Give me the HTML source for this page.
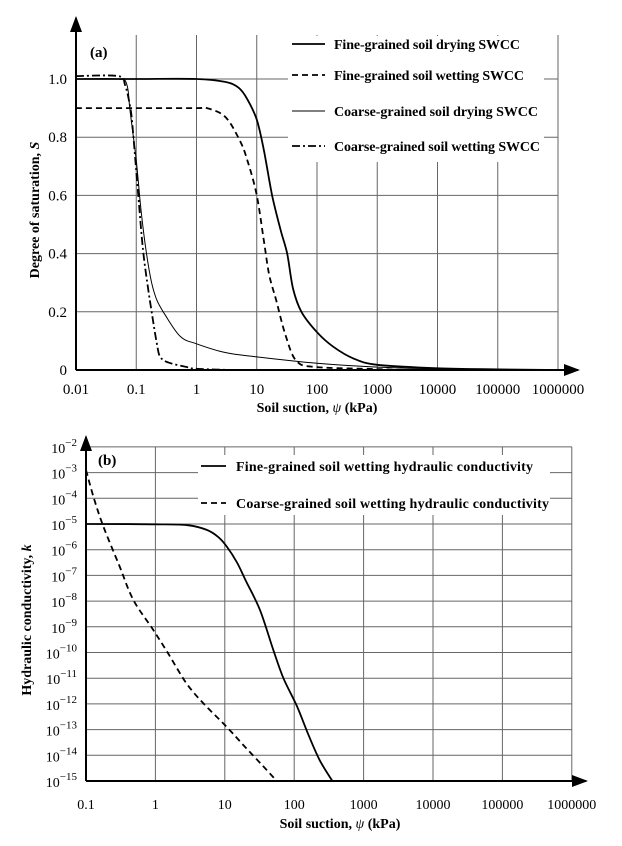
<!DOCTYPE html>
<html><head><meta charset="utf-8"><style>
body{margin:0;background:#fff}
svg{display:block;font-family:"Liberation Serif",serif}
</style></head><body>
<svg id="fig" width="622" height="846">
<defs><marker id="arr" markerWidth="8" markerHeight="6" refX="7" refY="3" orient="auto"><path d="M0,0L8,3L0,6z" fill="#000"/></marker></defs>
<g id="a"></g>
<g id="b"></g>
</svg>
<script>
// Chart (a) data
const aXTicks=["0.01","0.1","1","10","100","1000","10000","100000","1000000"];
const aYTicks=["0","0.2","0.4","0.6","0.8","1.0"];
const fineDryX=[0.01,0.1,1,3,5,7,10,13,18,25,32,40,55,100,186,400,1000,10000,100000,1000000];
const fineDryY=[1.0,1.0,1.0,0.99,0.97,0.93,0.86,0.76,0.6,0.48,0.4,0.28,0.2,0.13,0.08,0.04,0.018,0.006,0.002,0];
const fineWetX=[0.01,0.1,1,1.5,3,5.2,7,10,13,16,21,30,46,100,1000,3000];
const fineWetY=[0.9,0.9,0.9,0.9,0.87,0.79,0.72,0.6,0.45,0.33,0.24,0.12,0.03,0.01,0.003,0];
const coarseDryX=[0.01,0.05,0.07,0.079,0.1,0.12,0.148,0.18,0.22,0.3,0.54,1,3,10,100,1000,10000,1000000];
const coarseDryY=[1.0,1.0,0.98,0.89,0.72,0.55,0.4,0.3,0.24,0.19,0.115,0.09,0.06,0.045,0.023,0.01,0.004,0];
const coarseWetX=[0.01,0.05,0.065,0.08,0.089,0.108,0.13,0.16,0.19,0.22,0.25,0.35,0.7,1,4];
const coarseWetY=[1.01,1.01,0.98,0.9,0.81,0.6,0.41,0.27,0.17,0.09,0.045,0.025,0.01,0.004,0];
// Chart (b) data
const bXTicks=["0.1","1","10","100","1000","10000","100000","1000000"];
const bYExp=[-15,-14,-13,-12,-11,-10,-9,-8,-7,-6,-5,-4,-3,-2];
const fineKX=[0.1,1,3,5.5,8,10.7,15,20,32,50,70,110,160,234,355];
const fineKY=[-5,-5.01,-5.05,-5.23,-5.5,-5.88,-6.5,-7.2,-8.34,-9.9,-11,-12.1,-13.2,-14.2,-15];
const coarseKX=[0.1,0.13,0.178,0.3,0.48,0.92,1.5,2.8,5,10.7,20,35,56];
const coarseKY=[-2.9,-4,-5.1,-6.6,-7.95,-9.1,-10,-11.2,-12,-12.9,-13.7,-14.4,-15];

const NS="http://www.w3.org/2000/svg";
function mk(p,t,at,txt){const e=document.createElementNS(NS,t);for(const k in at)e.setAttribute(k,at[k]);if(txt!==undefined)e.textContent=txt;p.appendChild(e);return e;}
function smooth(pts){let d='M'+pts[0][0].toFixed(1)+','+pts[0][1].toFixed(1);
for(let i=0;i<pts.length-1;i++){const p0=pts[Math.max(0,i-1)],p1=pts[i],p2=pts[i+1],p3=pts[Math.min(pts.length-1,i+2)];
const c1=[p1[0]+(p2[0]-p0[0])/6,p1[1]+(p2[1]-p0[1])/6],c2=[p2[0]-(p3[0]-p1[0])/6,p2[1]-(p3[1]-p1[1])/6];
d+='C'+c1.map(v=>v.toFixed(1)).join(',')+' '+c2.map(v=>v.toFixed(1)).join(',')+' '+p2.map(v=>v.toFixed(1)).join(',');}
return d;}
function path(P,xs,ys,fx,fy,at,name){const pts=xs.map((v,i)=>[fx(v),fy(ys[i])]);
const e=mk(P,'path',Object.assign({d:smooth(pts),fill:'none',stroke:'#000','stroke-linejoin':'round'},at));

}

// ---- chart a
const A=document.getElementById('a');
const ax=v=>76+60.25*(Math.log10(v)+2);
const ay=v=>370-291*v;
for(let i=1;i<aXTicks.length;i++){const x=ax(+aXTicks[i]);const l=mk(A,'line',{x1:x,y1:35,x2:x,y2:370,stroke:'#666','stroke-width':1});

}
for(let i=1;i<aYTicks.length;i++){const y=ay(+aYTicks[i]);const l=mk(A,'line',{x1:76,y1:y,x2:558,y2:y,stroke:'#666','stroke-width':1});

}
aXTicks.forEach(t=>{const e=mk(A,'text',{x:ax(+t),y:394,'font-size':15,'text-anchor':'middle'},t);

});
aYTicks.forEach(t=>{const e=mk(A,'text',{x:67,y:ay(+t)+5,'font-size':15,'text-anchor':'end'},t);

});
mk(A,'rect',{x:288,y:36,width:256,height:126,fill:'#fff'});
path(A,fineDryX,fineDryY,ax,ay,{'stroke-width':1.8},'fine-drying-swcc');
path(A,fineWetX,fineWetY,ax,ay,{'stroke-width':1.8,'stroke-dasharray':'6,4'},'fine-wetting-swcc');
path(A,coarseDryX,coarseDryY,ax,ay,{'stroke-width':1},'coarse-drying-swcc');
path(A,coarseWetX,coarseWetY,ax,ay,{'stroke-width':1.8,'stroke-dasharray':'8,3,2,3'},'coarse-wetting-swcc');
const aLeg=[["Fine-grained soil drying SWCC",{'stroke-width':1.8}],["Fine-grained soil wetting SWCC",{'stroke-width':1.8,'stroke-dasharray':'6,4'}],["Coarse-grained soil drying SWCC",{'stroke-width':1}],["Coarse-grained soil wetting SWCC",{'stroke-width':1.8,'stroke-dasharray':'8,3,2,3'}]];
const aLegY=[44,75,111,146];
aLeg.forEach((l,i)=>{const g=mk(A,'g',{});


mk(g,'line',Object.assign({x1:292,y1:aLegY[i],x2:325,y2:aLegY[i],stroke:'#000'},l[1]));
mk(g,'text',{x:334,y:aLegY[i]+5,'font-size':14,'font-weight':'bold','textLength':i==0?186:i==1?190:i==2?204:206},l[0]);});
mk(A,'line',{x1:76,y1:370,x2:76,y2:18,stroke:'#000','stroke-width':2,'marker-end':'url(#arr)'});
mk(A,'line',{x1:76,y1:370,x2:578,y2:370,stroke:'#000','stroke-width':2,'marker-end':'url(#arr)'});
mk(A,'text',{x:90,y:57,'font-size':15,'font-weight':'bold'},'(a)');
const ayt=mk(A,'text',{x:0,y:0,'font-size':14,'font-weight':'bold','text-anchor':'middle',transform:'translate(39,210) rotate(-90)'});
ayt.innerHTML='Degree of saturation, <tspan font-style="italic">S</tspan>';


const axt=mk(A,'text',{x:317,y:412,'font-size':14,'font-weight':'bold','text-anchor':'middle'});
axt.innerHTML='Soil suction, <tspan font-style="italic" font-weight="normal">ψ</tspan> (kPa)';



// ---- chart b
const B=document.getElementById('b');
const bx=v=>86+69.4*(Math.log10(v)+1);
const by=e=>781-(e+15)*25.7;
for(let i=1;i<bXTicks.length;i++){const x=bx(+bXTicks[i]);const l=mk(B,'line',{x1:x,y1:447,x2:x,y2:781,stroke:'#666','stroke-width':1});

}
bYExp.forEach(e=>{if(e>-15){const y=by(e);const l=mk(B,'line',{x1:86,y1:y,x2:572,y2:y,stroke:'#666','stroke-width':1});

}
const t=mk(B,'text',{x:77,y:by(e)+6,'font-size':14,'text-anchor':'end'});
t.innerHTML='10<tspan dy="-7" font-size="11">'+(e<0?'−':'')+Math.abs(e)+'</tspan>';

});
bXTicks.forEach(t=>{const e=mk(B,'text',{x:bx(+t),y:809,'font-size':14,'text-anchor':'middle'},t);

});
mk(B,'rect',{x:198,y:455,width:352,height:60,fill:'#fff'});
path(B,fineKX,fineKY,bx,by,{'stroke-width':1.8},'fine-wetting-k');
path(B,coarseKX,coarseKY,bx,by,{'stroke-width':1.8,'stroke-dasharray':'6,4'},'coarse-wetting-k');
const bLeg=[["Fine-grained soil wetting hydraulic conductivity",{},297],["Coarse-grained soil wetting hydraulic conductivity",{'stroke-dasharray':'6,4'},313]];
const bLegY=[466,503];
bLeg.forEach((l,i)=>{const g=mk(B,'g',{});


mk(g,'line',Object.assign({x1:201,y1:bLegY[i],x2:226,y2:bLegY[i],stroke:'#000','stroke-width':1.8},l[1]));
mk(g,'text',{x:236,y:bLegY[i]+5,'font-size':14,'font-weight':'bold','textLength':l[2]},l[0]);});
mk(B,'line',{x1:86,y1:781,x2:86,y2:437,stroke:'#000','stroke-width':2,'marker-end':'url(#arr)'});
mk(B,'line',{x1:86,y1:781,x2:586,y2:781,stroke:'#000','stroke-width':2,'marker-end':'url(#arr)'});
mk(B,'text',{x:98,y:465,'font-size':15,'font-weight':'bold'},'(b)');
const byt=mk(B,'text',{x:0,y:0,'font-size':14,'font-weight':'bold','text-anchor':'middle',transform:'translate(31,620) rotate(-90)'});
byt.innerHTML='Hydraulic conductivity, <tspan font-style="italic">k</tspan>';


const bxt=mk(B,'text',{x:340,y:828,'font-size':14,'font-weight':'bold','text-anchor':'middle'});
bxt.innerHTML='Soil suction, <tspan font-style="italic" font-weight="normal">ψ</tspan> (kPa)';


</script>
</body></html>
